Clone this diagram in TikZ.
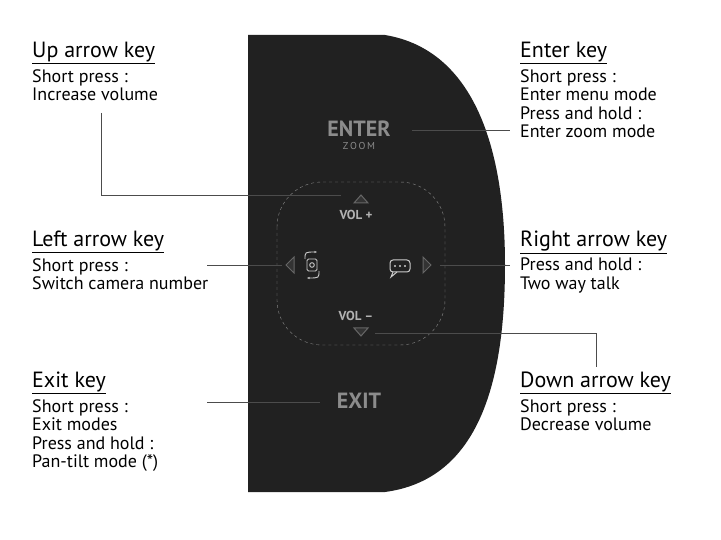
\documentclass[tikz,border=0pt]{standalone}
\usepackage{fontspec}
\setmainfont{PT Sans}
\usetikzlibrary{arrows.meta}
\begin{document}
\begin{tikzpicture}[x=1pt,y=-1pt,
  title/.style={anchor=north west,font=\fontsize{22}{22}\selectfont,inner sep=0pt},
  body/.style={anchor=north west,font=\fontsize{18}{18.5}\selectfont,align=left,inner sep=0pt},
  lead/.style={draw=black!70,line width=0.8pt},
  key/.style={text=black!45,font=\bfseries,inner sep=0pt},
  icon/.style={draw=white!80!black,line width=0.9pt},
  tri/.style={draw=black!60,fill=black!80,line width=1pt}]
\useasboundingbox (0,0) rectangle (721,540);
\fill[white] (0,0) rectangle (721,540);
% device
\fill[black!87] (248,35) -- (385,35) .. controls (475,50) and (505,150) .. (505,265)
  .. controls (505,390) and (475,480) .. (385,492) -- (248,492) -- cycle;
\draw[black!45,dashed,rounded corners=45] (277,182) rectangle (445,345);
% keys
\node[key,font=\bfseries\fontsize{22}{22}\selectfont] (enter) at (359,129) {ENTER};
\node[key,font=\fontsize{10}{10}\selectfont] (zoom) at (359,146) {Z\,O\,O\,M};
\node[key,text=black!30,font=\bfseries\fontsize{13}{13}\selectfont] (volp) at (356,215) {VOL +};
\node[key,text=black!30,font=\bfseries\fontsize{13}{13}\selectfont] (volm) at (356,316) {VOL –};
\node[key,font=\bfseries\fontsize{22}{22}\selectfont] (exit) at (359,401) {EXIT};
\draw[tri] (354,203) -- (361,195) -- (368,203) -- cycle;
\draw[tri] (354,328) -- (361,336) -- (368,328) -- cycle;
\draw[tri] (294,257) -- (286,265) -- (294,273) -- cycle;
\draw[tri] (423,257) -- (431,265) -- (423,273) -- cycle;
% camera icon
\draw[icon,rounded corners=1.5] (307,259) rectangle (317,271);
\draw[icon] (312,265) circle (2.3);
\draw[icon,-{Stealth[length=3pt]}] (305,259) .. controls (305,252) .. (317,252);
\draw[icon,-{Stealth[length=3pt]}] (319,271) .. controls (319,278) .. (307,278);
% chat icon
\draw[icon,line width=1pt,rounded corners=3] (390,260) rectangle (410,272);
\draw[icon,line width=1pt] (393,272) -- (391,277) -- (397,272);
\foreach \dx in {-5,0,5} \fill[white!80!black] (400+\dx,266) circle (1.2);
% labels left
\node[title] (tup) at (32,42) {\underline{Up arrow key}};
\node[body] (bup) at (32,69) {Short press :\\Increase volume};
\node[title] (tleft) at (32,231) {\underline{Left arrow key}};
\node[body] (bleft) at (32,258) {Short press :\\Switch camera number};
\node[title] (texit) at (32,372) {\underline{Exit key}};
\node[body] (bexit) at (32,399) {Short press :\\Exit modes\\Press and hold :\\Pan-tilt mode (*)};
% labels right
\node[title] (tenter) at (520,42) {\underline{Enter key}};
\node[body] (benter) at (520,69) {Short press :\\Enter menu mode\\Press and hold :\\Enter zoom mode};
\node[title] (tright) at (520,231) {\underline{Right arrow key}};
\node[body] (bright) at (520,258) {Press and hold :\\Two way talk};
\node[title] (tdown) at (520,372) {\underline{Down arrow key}};
\node[body] (bdown) at (520,399) {Short press :\\Decrease volume};
% leaders
\coordinate (u1) at (101,113); \coordinate (u2) at (101,195); \coordinate (u3) at (341,195);
\draw[lead] (u1) -- (u2) -- (u3);
\coordinate (e1) at (412,130); \coordinate (e2) at (510,130);
\draw[lead] (e1) -- (e2);
\coordinate (l1) at (207,265); \coordinate (l2) at (282,265);
\draw[lead] (l1) -- (l2);
\coordinate (r1) at (440,265); \coordinate (r2) at (510,265);
\draw[lead] (r1) -- (r2);
\coordinate (d1) at (375,333); \coordinate (d2) at (596,333); \coordinate (d3) at (596,367);
\draw[lead] (d1) -- (d2) -- (d3);
\coordinate (x1) at (207,402); \coordinate (x2) at (320,402);
\draw[lead] (x1) -- (x2);
\end{tikzpicture}
\end{document}
